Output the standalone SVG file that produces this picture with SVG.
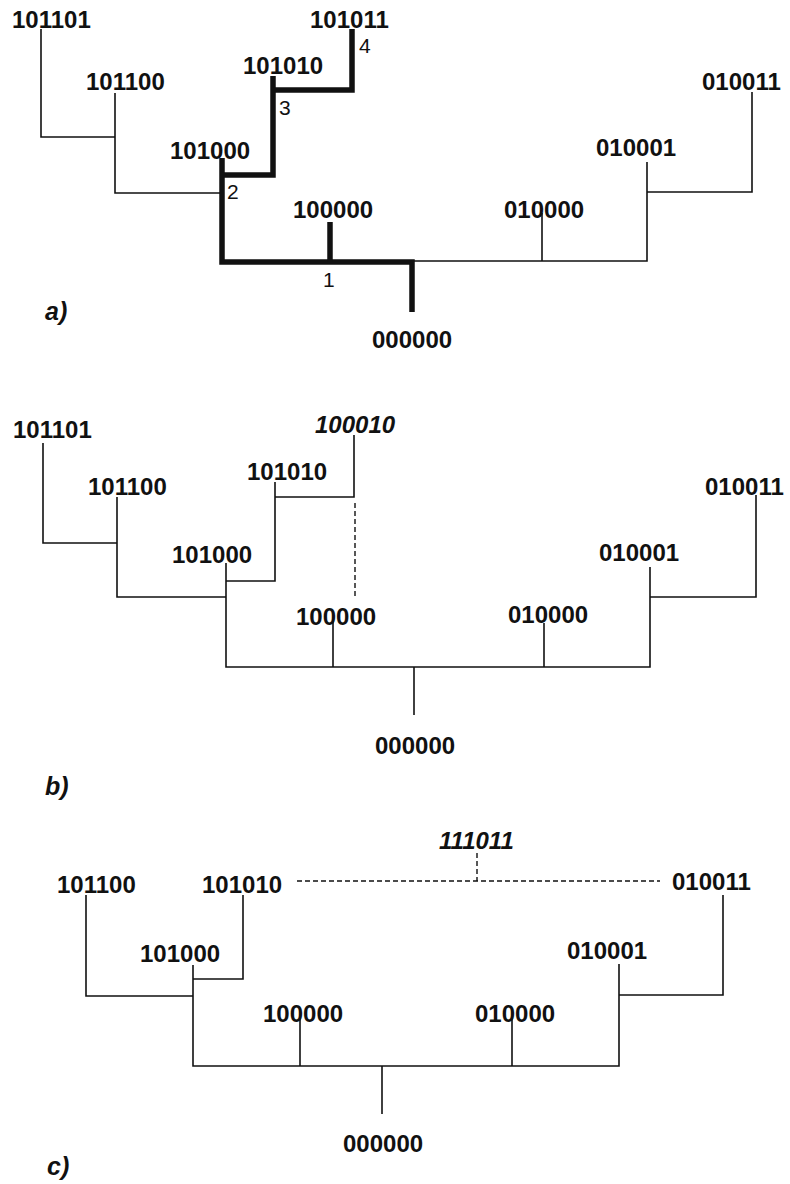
<svg xmlns="http://www.w3.org/2000/svg" width="790" height="1184" viewBox="0 0 790 1184">
<style>
.n{font-family:"Liberation Sans",Arial,sans-serif;font-weight:bold;font-size:24px;fill:#111}
.i{font-style:italic}
.s{font-family:"Liberation Sans",Arial,sans-serif;font-size:21px;fill:#111}
.p{font-family:"Liberation Sans",Arial,sans-serif;font-weight:bold;font-style:italic;font-size:25px;fill:#111}
.t{fill:none;stroke:#111;stroke-width:1.6}
.k{fill:none;stroke:#111;stroke-width:5.5;stroke-linejoin:miter}
.d{fill:none;stroke:#111;stroke-width:1.4;stroke-dasharray:5 3}
</style>
<rect width="790" height="1184" fill="#fff"/>
<!-- Panel a -->
<g id="connectors-a">
<path class="t" d="M41,29 V137 H115"/>
<path class="t" d="M115,93 V193 H222"/>
<path class="t" d="M412,261 H647 V162"/>
<path class="t" d="M542,213 V261"/>
<path class="t" d="M647,192 H752 V92"/>
<path class="k" d="M412,312 V262 H222 V158"/>
<path class="k" d="M330,262 V222"/>
<path class="k" d="M222,175 H273 V76"/>
<path class="k" d="M273,90 H352 V29"/>
</g>
<g id="a-101101"><text class="n" x="12" y="28">101101</text></g>
<g id="a-101100"><text class="n" x="86" y="90">101100</text></g>
<g id="a-101000"><text class="n" x="170" y="159">101000</text></g>
<g id="a-101010"><text class="n" x="243" y="74">101010</text></g>
<g id="a-101011"><text class="n" x="310" y="28">101011</text></g>
<g id="a-100000"><text class="n" x="293" y="218">100000</text></g>
<g id="a-000000"><text class="n" x="372" y="348">000000</text></g>
<g id="a-010000"><text class="n" x="504" y="218">010000</text></g>
<g id="a-010001"><text class="n" x="596" y="156">010001</text></g>
<g id="a-010011"><text class="n" x="702" y="90">010011</text></g>
<g id="a-steps">
<text class="s" x="323" y="287">1</text>
<text class="s" x="227" y="199">2</text>
<text class="s" x="279" y="115">3</text>
<text class="s" x="359" y="53">4</text>
</g>
<text class="p" x="45" y="320">a)</text>
<!-- Panel b -->
<g id="connectors-b">
<path class="t" d="M43,443 V543 H117"/>
<path class="t" d="M117,497 V597 H226"/>
<path class="t" d="M226,563 V667 H650 V567"/>
<path class="t" d="M226,581 H275 V482"/>
<path class="t" d="M275,497 H354 V435"/>
<path class="d" d="M355,503 V597"/>
<path class="t" d="M333,620 V667"/>
<path class="t" d="M414,667 V715"/>
<path class="t" d="M544,623 V667"/>
<path class="t" d="M650,597 H756 V495"/>
</g>
<g id="b-101101"><text class="n" x="13" y="438">101101</text></g>
<g id="b-101100"><text class="n" x="88" y="495">101100</text></g>
<g id="b-101000"><text class="n" x="172" y="563">101000</text></g>
<g id="b-101010"><text class="n" x="247" y="480">101010</text></g>
<g id="b-100010"><text class="n i" x="315" y="433">100010</text></g>
<g id="b-100000"><text class="n" x="296" y="625">100000</text></g>
<g id="b-000000"><text class="n" x="375" y="754">000000</text></g>
<g id="b-010000"><text class="n" x="508" y="623">010000</text></g>
<g id="b-010001"><text class="n" x="599" y="561">010001</text></g>
<g id="b-010011"><text class="n" x="705" y="495">010011</text></g>
<text class="p" x="45" y="795">b)</text>
<!-- Panel c -->
<g id="connectors-c">
<path class="t" d="M86,895 V996 H193"/>
<path class="t" d="M243,895 V979 H193"/>
<path class="t" d="M193,965 V1066 H619 V964"/>
<path class="d" d="M297,881 H660"/>
<path class="d" d="M477,853 V881"/>
<path class="t" d="M723,895 V995 H619"/>
<path class="t" d="M512,1017 V1066"/>
<path class="t" d="M300,1017 V1066"/>
<path class="t" d="M382,1066 V1114"/>
</g>
<g id="c-101100"><text class="n" x="57" y="893">101100</text></g>
<g id="c-101010"><text class="n" x="202" y="893">101010</text></g>
<g id="c-101000"><text class="n" x="140" y="962">101000</text></g>
<g id="c-111011"><text class="n i" x="439" y="849">111011</text></g>
<g id="c-010011"><text class="n" x="672" y="890">010011</text></g>
<g id="c-010001"><text class="n" x="567" y="959">010001</text></g>
<g id="c-010000"><text class="n" x="475" y="1022">010000</text></g>
<g id="c-100000"><text class="n" x="263" y="1022">100000</text></g>
<g id="c-000000"><text class="n" x="343" y="1152">000000</text></g>
<text class="p" x="47" y="1175">c)</text>
</svg>
